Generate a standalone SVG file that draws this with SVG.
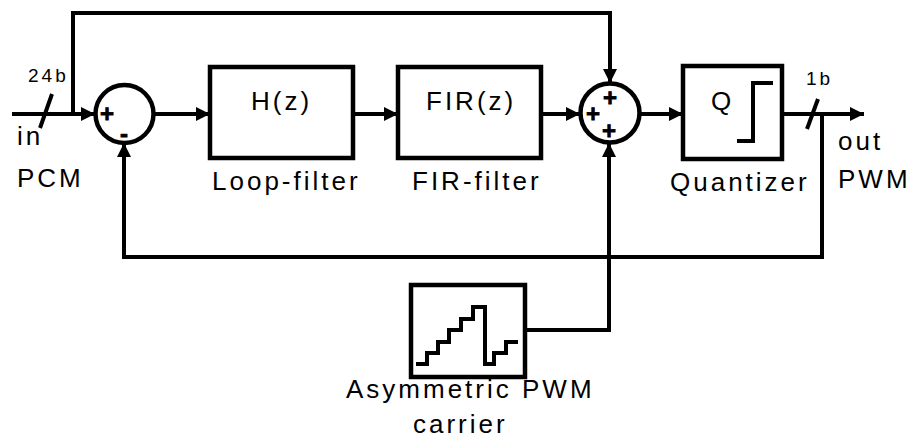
<svg xmlns="http://www.w3.org/2000/svg" width="911" height="441" viewBox="0 0 911 441">
<style>
.ln{fill:none;stroke:#000;stroke-width:4;stroke-linejoin:miter}
.bx{fill:#fff;stroke:#000;stroke-width:4.5}
.lb{font-family:"Liberation Sans",Arial,sans-serif;font-size:26px;letter-spacing:3px;fill:#000}
.sm{font-family:"Liberation Sans",Arial,sans-serif;font-size:19px;letter-spacing:3px;fill:#000}
.sg{font-family:"Liberation Sans",Arial,sans-serif;font-size:24px;font-weight:bold;fill:#000;stroke:#000;stroke-width:0.8;text-anchor:middle}
</style>
<defs>
<marker id="ar" markerUnits="userSpaceOnUse" markerWidth="16" markerHeight="16" refX="14" refY="7" orient="auto">
<path d="M0,0 L14,7 L0,14 Z" fill="#000"/>
</marker>
</defs>
<rect width="911" height="441" fill="#fff"/>
<g id="connectors">
<line class="ln" x1="12" y1="114" x2="95" y2="114" marker-end="url(#ar)"/>
<polyline class="ln" points="73,114 73,13 610,13 610,83" marker-end="url(#ar)"/>
<line class="ln" x1="154" y1="114" x2="210" y2="114" marker-end="url(#ar)"/>
<line class="ln" x1="353" y1="114" x2="398" y2="114" marker-end="url(#ar)"/>
<line class="ln" x1="541" y1="114" x2="580" y2="114" marker-end="url(#ar)"/>
<line class="ln" x1="640" y1="114" x2="683" y2="114" marker-end="url(#ar)"/>
<line class="ln" x1="782" y1="114" x2="864" y2="114" marker-end="url(#ar)"/>
<polyline class="ln" points="822,114 822,257 124,257 124,143" marker-end="url(#ar)"/>
<polyline class="ln" points="525,330 609,330 609,143" marker-end="url(#ar)"/>
<line class="ln" x1="40" y1="128" x2="52" y2="94"/>
<line class="ln" x1="807" y1="129" x2="818" y2="99"/>
<text class="sm" x="28" y="82">24b</text>
<text class="sm" x="806" y="85">1b</text>
<text class="lb" x="17" y="145">in</text>
<text class="lb" x="17" y="187">PCM</text>
<text class="lb" x="838" y="150">out</text>
<text class="lb" x="838" y="188">PWM</text>
</g>
<g id="sum1">
<circle class="bx" cx="124.5" cy="114" r="29"/>
<text class="sg" x="107" y="121.5">+</text>
<text class="sg" x="124" y="142" font-size="36">-</text>
</g>
<g id="loopfilter">
<rect class="bx" x="210" y="67" width="143" height="91"/>
<text class="lb" x="251" y="110">H(z)</text>
<text class="lb" x="212" y="190">Loop-filter</text>
</g>
<g id="firfilter">
<rect class="bx" x="398" y="67" width="143" height="91"/>
<text class="lb" x="426" y="110">FIR(z)</text>
<text class="lb" x="412" y="190">FIR-filter</text>
</g>
<g id="sum2">
<circle class="bx" cx="610" cy="113" r="29.5"/>
<text class="sg" x="610" y="105.5">+</text>
<text class="sg" x="593" y="121.5">+</text>
<text class="sg" x="609" y="138.5">+</text>
</g>
<g id="quantizer">
<rect class="bx" x="683" y="66" width="99" height="93"/>
<text class="lb" x="711" y="110">Q</text>
<polyline class="ln" points="737,141 753,141 753,83 773,83"/>
<text class="lb" x="670" y="191">Quantizer</text>
</g>
<g id="carrier">
<rect class="bx" x="411" y="285" width="114" height="92"/>
<polyline class="ln" points="416,364 427,364 427,353 438,353 438,342 449,342 449,330 461,330 461,319 473,319 473,307 485,307 485,364 494,364 494,353 506,353 506,342 518,342"/>
<text class="lb" x="346" y="398">Asymmetric PWM</text>
<text class="lb" x="413" y="433">carrier</text>
</g>
</svg>
